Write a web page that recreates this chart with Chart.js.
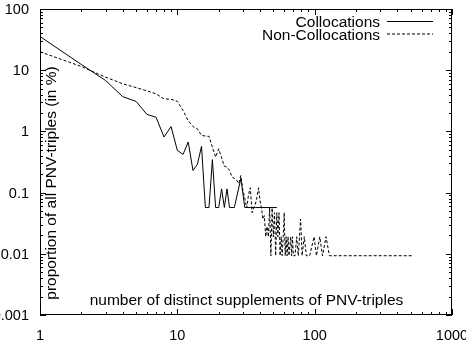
<!DOCTYPE html>
<html>
<head>
<meta charset="utf-8">
<script src="https://cdn.jsdelivr.net/npm/chart.js@4.4.1/dist/chart.umd.min.js"></script>
<style>
  html, body { margin: 0; padding: 0; background: #fff; }
  canvas { display: block; }
</style>
</head>
<body>
<canvas id="chart" width="466" height="346"></canvas>
<script>
// Axis ticks (log scales)
const xTicks = [1, 10, 100, 1000];
const yTicks = [0.001, 0.01, 0.1, 1, 10, 100];

// Collocations (solid)
const collocX = [1, 2, 3, 4, 5, 6, 7, 8, 9, 10, 11, 12, 13, 14, 15, 16, 17, 18, 19, 20,
  21, 22, 23, 24, 25, 26, 29, 31, 34, 37, 41, 45, 49, 53];
const collocY = [35.5, 12.4, 6.8, 3.7, 3.1, 1.9, 1.7, 0.81, 1.2, 0.49, 0.42, 0.67, 0.23, 0.29, 0.57, 0.057, 0.057, 0.345, 0.057, 0.057,
  0.115, 0.057, 0.115, 0.057, 0.057, 0.057, 0.17, 0.057, 0.057, 0.057, 0.057, 0.057, 0.057, 0.057];

// Non-Collocations (dashed)
const nonCollocX = [1, 2, 3, 4, 5, 6, 7, 8, 9, 10, 11, 12, 13, 14, 15, 16, 17, 18, 19, 20,
  21, 22, 23, 24, 25, 26, 27, 28, 29, 30, 31, 32, 33, 34, 35, 36, 37, 38, 39, 40,
  41, 42, 43, 44, 45, 46, 47, 48, 49, 50, 51, 52, 53, 54, 55, 56, 57, 58, 59, 60,
  61, 62, 63, 64, 65, 67, 68, 69, 70, 72, 74, 76, 79, 81, 84, 87, 92, 99, 103, 109,
  114, 121, 128, 160, 230, 340, 518];
const nonCollocY = [20, 11.5, 7.7, 6.0, 5.2, 4.6, 4.1, 3.4, 3.35, 3.1, 2.2, 1.5, 1.2, 1.1, 0.86, 0.84, 0.83, 0.55, 0.38, 0.52,
  0.37, 0.27, 0.26, 0.23, 0.18, 0.17, 0.16, 0.14, 0.19, 0.11, 0.08, 0.056, 0.093, 0.12, 0.047, 0.056, 0.065, 0.084, 0.12, 0.074,
  0.056, 0.037, 0.042, 0.019, 0.028, 0.019, 0.056, 0.0093, 0.056, 0.019, 0.047, 0.0093, 0.047, 0.019, 0.047, 0.0093, 0.019, 0.0093, 0.019, 0.047,
  0.0093, 0.019, 0.0093, 0.019, 0.0093, 0.019, 0.0093, 0.019, 0.0093, 0.0093, 0.019, 0.0093, 0.037, 0.0093, 0.019, 0.0093, 0.0093, 0.019, 0.0093, 0.019,
  0.0093, 0.019, 0.0093, 0.0093, 0.0093, 0.0093, 0.0093];

const legendLabels = ["Collocations", "Non-Collocations"];
const xTitle = "number of distinct supplements of PNV-triples";
const yTitle = "proportion of all PNV-triples (in %)";

const FONT = "'Liberation Sans', Arial, Helvetica, sans-serif";

function toPoints(xs, ys) {
  return xs.map((x, i) => ({ x: x, y: ys[i] }));
}

// gnuplot-like frame with inward ticks on all sides, titles inside and key top right
const gnuplotFrame = {
  id: "gnuplotFrame",
  afterDraw(chart) {
    const { ctx, chartArea: a, scales } = chart;
    const xs = scales.x, ys = scales.y;
    ctx.save();
    ctx.strokeStyle = "#000";
    ctx.lineWidth = 1;
    ctx.setLineDash([]);

    ctx.strokeRect(a.left + 0.5, a.top + 0.5, a.right - a.left - 1, a.bottom - a.top - 1);

    ctx.beginPath();
    for (let e = 0; e <= 3; e++) {
      const d = Math.pow(10, e);
      for (let m = 1; m <= 9; m++) {
        const v = d * m;
        if (v > 1000) break;
        const px = Math.round(xs.getPixelForValue(v)) + 0.5;
        const len = m === 1 ? 6 : 3;
        ctx.moveTo(px, a.bottom); ctx.lineTo(px, a.bottom - len);
        ctx.moveTo(px, a.top); ctx.lineTo(px, a.top + len);
      }
    }
    for (let e = -3; e <= 2; e++) {
      const d = Math.pow(10, e);
      for (let m = 1; m <= 9; m++) {
        const v = d * m;
        if (v > 100.0001) break;
        const py = Math.round(ys.getPixelForValue(v)) + 0.5;
        const len = m === 1 ? 6 : 3;
        ctx.moveTo(a.left, py); ctx.lineTo(a.left + len, py);
        ctx.moveTo(a.right, py); ctx.lineTo(a.right - len, py);
      }
    }
    ctx.stroke();

    // axis titles inside the plot
    ctx.fillStyle = "#000";
    ctx.font = "15.5px " + FONT;
    ctx.textAlign = "center";
    ctx.textBaseline = "middle";
    ctx.fillText(xTitle, (a.left + a.right) / 2 + 0.5, a.bottom - 14);

    ctx.save();
    ctx.translate(a.left + 11.5, 183);
    ctx.rotate(-Math.PI / 2);
    ctx.fillText(yTitle, 0, 0);
    ctx.restore();

    // key
    ctx.textAlign = "right";
    ctx.textBaseline = "alphabetic";
    const rows = [26.7, 40];
    const lines = [21, 33.5];
    chart.data.datasets.forEach((ds, i) => {
      ctx.fillText(legendLabels[i], 380, rows[i]);
      ctx.beginPath();
      ctx.setLineDash(ds.borderDash || []);
      ctx.moveTo(387, lines[i] + 0.5);
      ctx.lineTo(433, lines[i] + 0.5);
      ctx.stroke();
    });
    ctx.restore();
  }
};

new Chart(document.getElementById("chart"), {
  type: "line",
  data: {
    datasets: [
      {
        label: legendLabels[0],
        data: toPoints(collocX, collocY),
        borderColor: "#000",
        borderWidth: 1,
        pointRadius: 0,
        tension: 0,
        fill: false
      },
      {
        label: legendLabels[1],
        data: toPoints(nonCollocX, nonCollocY),
        borderColor: "#000",
        borderWidth: 1,
        borderDash: [3, 2],
        pointRadius: 0,
        tension: 0,
        fill: false
      }
    ]
  },
  options: {
    responsive: false,
    animation: false,
    devicePixelRatio: 1,
    layout: { padding: { left: 0, right: 14, top: 9, bottom: 0 } },
    plugins: {
      legend: { display: false },
      tooltip: { enabled: false }
    },
    scales: {
      x: {
        type: "logarithmic",
        min: 1,
        max: 1000,
        grid: { display: false, drawTicks: false },
        border: { display: false },
        afterBuildTicks: (scale) => { scale.ticks = xTicks.map(v => ({ value: v })); },
        afterFit: (scale) => {
          scale.height = 31;
          scale.paddingLeft = 0; scale.paddingRight = 0;
          scale.paddingTop = 0; scale.paddingBottom = 0;
        },
        ticks: {
          color: "#000",
          font: { family: FONT, size: 14.5 },
          padding: 12,
          maxRotation: 0,
          autoSkip: false,
          callback: (v) => String(v)
        }
      },
      y: {
        type: "logarithmic",
        min: 0.001,
        max: 100,
        grid: { display: false, drawTicks: false },
        border: { display: false },
        afterBuildTicks: (scale) => { scale.ticks = yTicks.map(v => ({ value: v })); },
        afterFit: (scale) => {
          scale.width = 40;
          scale.paddingLeft = 0; scale.paddingRight = 0;
          scale.paddingTop = 0; scale.paddingBottom = 0;
        },
        ticks: {
          color: "#000",
          font: { family: FONT, size: 14.5 },
          padding: 11,
          labelOffset: 1,
          autoSkip: false,
          callback: (v) => String(v)
        }
      }
    }
  },
  plugins: [gnuplotFrame]
});
</script>
</body>
</html>
